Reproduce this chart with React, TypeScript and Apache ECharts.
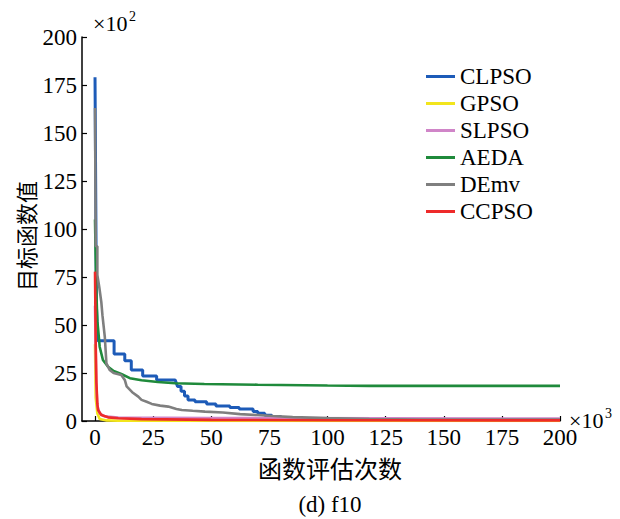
import React, { useEffect, useRef } from "react";
import * as echarts from "echarts";

// x in ×10^3 evaluations, y in ×10^2
const seriesNames = ["CLPSO", "GPSO", "SLPSO", "AEDA", "DEmv", "CCPSO"];
const seriesColors = ["#1d5bb8", "#f2e51c", "#d085c8", "#1f8a3b", "#7f7f7f", "#ee2a2a"];

const clpso = [
  [0, 179], [0.6, 60], [1.2, 41.8], [8.2, 41.8], [8.2, 34.9], [12.8, 34.9], [12.8, 31.4],
  [15.6, 31.4], [15.6, 26.6], [20.5, 26.6], [20.5, 23.5], [26.5, 23.5], [26.5, 21.4],
  [34.5, 21.4], [35.5, 18], [37, 18], [37, 15.5], [38.5, 15.5], [38.5, 13], [40, 13],
  [40, 11], [43, 11], [43, 10], [48, 10], [48, 8.8], [52, 8.8], [52, 7.8], [58, 7.8],
  [58, 7.0], [62, 7.0], [62, 6.3], [68, 6.3], [68, 5.0], [70, 5.0], [70, 4.0], [73, 4.0],
  [73, 3.0], [76, 3.0], [76, 2.3], [80, 2.3], [80, 1.5], [88, 1.5], [88, 1.0], [95, 1.0],
  [95, 0.6], [200, 0.6],
];
const gpso = [
  [0, 40], [0.3, 12], [1, 4], [2, 1], [5, 0.3], [10, 0.1], [200, 0.05],
];
const slpso = [
  [0, 60], [0.5, 20], [1, 8], [2, 4], [4, 2.5], [10, 1.8], [50, 1.5], [200, 1.3],
];
const aeda = [
  [0, 105], [0.5, 70], [1.0, 52], [1.3, 48.3], [2, 38.7], [3.4, 31.8], [5.6, 28.3],
  [8, 26], [11.3, 24.5], [15, 22.3], [20, 21.2], [27, 20.3], [34.4, 19.7], [47, 19.3],
  [70, 18.9], [100, 18.5], [118, 18.3], [150, 18.3], [200, 18.3],
];
const demv = [
  [0, 163], [0.3, 91], [1.0, 91], [1.0, 76], [1.8, 70], [2.7, 62], [3.2, 55], [4.2, 44],
  [4.9, 30], [6.3, 26.6], [8, 25], [11.3, 24], [12.8, 21.4], [13.6, 18], [16, 15],
  [18.6, 12.7], [20, 11], [22.2, 10], [24.4, 8.9], [28, 8], [31.5, 7.5], [35, 6.3],
  [37.3, 5.7], [42, 5.3], [47.3, 4.9], [55, 4.4], [62.4, 3.6], [70, 3.1], [76.6, 2.6],
  [85, 2.0], [100, 1.5], [118, 1.0], [140, 0.8], [200, 0.7],
];
const ccpso = [
  [0, 77.8], [0.3, 40], [0.6, 20], [1, 9], [1.3, 5.7], [2.7, 3.1], [5.6, 1.9], [10, 1.4],
  [20, 1.0], [50, 0.6], [100, 0.4], [200, 0.3],
];
const allData = [clpso, gpso, slpso, aeda, demv, ccpso];

const xTicks = [0, 25, 50, 75, 100, 125, 150, 175, 200];
const xMin = -5.6;
const xMax = 200;
const yMin = 0;
const yMax = 200;
const yStep = 25;

const SERIF = "'Liberation Serif', 'Times New Roman', serif";
const CJK = "'Noto Sans CJK SC', sans-serif";

export default function App() {
  const ref = useRef<HTMLDivElement>(null);
  useEffect(() => {
    if (!ref.current) return;
    const chart = echarts.init(ref.current, undefined, { renderer: "svg" });
    chart.setOption({
      animation: false,
      backgroundColor: "#ffffff",
      grid: { left: 82, right: 60, top: 37, bottom: 98 },
      xAxis: {
        type: "value",
        min: xMin,
        max: xMax,
        axisLine: { onZero: false, lineStyle: { color: "#000", width: 1.5 } },
        axisTick: { inside: true, length: 5, customValues: xTicks, lineStyle: { color: "#000", width: 1.2 } },
        axisLabel: { customValues: xTicks, color: "#000", fontSize: 23, fontFamily: SERIF, margin: 5 },
        splitLine: { show: false },
      },
      yAxis: {
        type: "value",
        min: yMin,
        max: yMax,
        interval: yStep,
        axisLine: { show: true, onZero: false, lineStyle: { color: "#000", width: 1.5 } },
        axisTick: { show: true, inside: true, length: 5, lineStyle: { color: "#000", width: 1.2 } },
        axisLabel: { color: "#000", fontSize: 23, fontFamily: SERIF, margin: 5 },
        splitLine: { show: false },
      },
      legend: {
        left: 421,
        top: 60,
        orient: "vertical",
        icon: "rect",
        itemWidth: 29,
        itemHeight: 3,
        itemGap: 4,
        textStyle: { color: "#000", fontSize: 23, fontFamily: SERIF, lineHeight: 23 },
        data: seriesNames,
      },
      series: seriesNames.map((name, i) => ({
        name,
        type: "line",
        data: allData[i],
        symbol: "none",
        showSymbol: false,
        color: seriesColors[i],
        itemStyle: { color: seriesColors[i] },
        lineStyle: { color: seriesColors[i], width: i === 0 ? 3 : 2.6 },
        z: 2 + i,
      })),
      graphic: [
        { type: "text", left: 93, top: 12, style: { text: "×10", fontSize: 22, fontFamily: SERIF, fill: "#000" } },
        { type: "text", left: 129, top: 9, style: { text: "2", fontSize: 14, fontFamily: SERIF, fill: "#000" } },
        { type: "text", left: 569, top: 409, style: { text: "×10", fontSize: 22, fontFamily: SERIF, fill: "#000" } },
        { type: "text", left: 605, top: 406, style: { text: "3", fontSize: 14, fontFamily: SERIF, fill: "#000" } },
        {
          type: "text",
          x: 25,
          y: 236,
          rotation: Math.PI / 2,
          style: { text: "目标函数值", fontSize: 22, fontFamily: CJK, fill: "#000", align: "center", verticalAlign: "middle" },
        },
        {
          type: "text",
          x: 330,
          y: 467,
          style: { text: "函数评估次数", fontSize: 24, fontFamily: CJK, fill: "#000", align: "center", verticalAlign: "middle" },
        },
        {
          type: "text",
          x: 330,
          y: 504,
          style: { text: "(d) f10", fontSize: 23, fontFamily: SERIF, fill: "#000", align: "center", verticalAlign: "middle" },
        },
      ],
    });
    return () => chart.dispose();
  }, []);
  return <div ref={ref} style={{ position: "fixed", left: 0, top: 0, width: 620, height: 519 }} />;
}
